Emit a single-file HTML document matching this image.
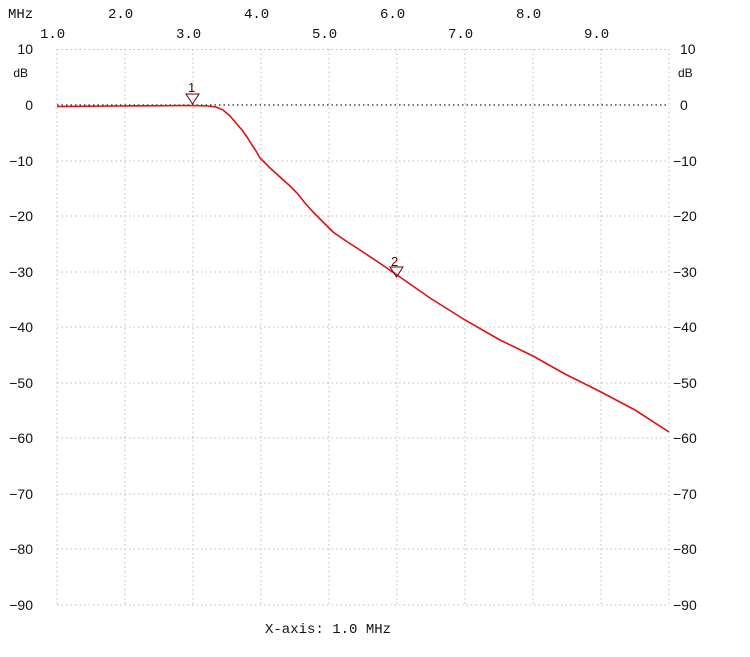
<!DOCTYPE html>
<html><head><meta charset="utf-8"><style>
html,body{margin:0;padding:0;background:#fff;}
svg{display:block;}
text{font-family:"Liberation Sans",sans-serif;font-size:14px;fill:#111;}
.m{font-family:"Liberation Mono",monospace;font-size:14px;}
</style></head><body>
<svg width="750" height="657" viewBox="0 0 750 657" xmlns="http://www.w3.org/2000/svg">
<g stroke="#bbb" stroke-width="1" stroke-dasharray="1.5,3" fill="none">
<line x1="57" y1="49.5" x2="669" y2="49.5"/>
<line x1="57" y1="161" x2="669" y2="161"/>
<line x1="57" y1="216" x2="669" y2="216"/>
<line x1="57" y1="272" x2="669" y2="272"/>
<line x1="57" y1="327" x2="669" y2="327"/>
<line x1="57" y1="383" x2="669" y2="383"/>
<line x1="57" y1="438" x2="669" y2="438"/>
<line x1="57" y1="494" x2="669" y2="494"/>
<line x1="57" y1="549" x2="669" y2="549"/>
<line x1="57" y1="605" x2="669" y2="605"/>
<line x1="57" y1="49" x2="57" y2="605"/>
<line x1="125" y1="49" x2="125" y2="605"/>
<line x1="193" y1="49" x2="193" y2="605"/>
<line x1="261" y1="49" x2="261" y2="605"/>
<line x1="329" y1="49" x2="329" y2="605"/>
<line x1="397" y1="49" x2="397" y2="605"/>
<line x1="465" y1="49" x2="465" y2="605"/>
<line x1="533" y1="49" x2="533" y2="605"/>
<line x1="601" y1="49" x2="601" y2="605"/>
<line x1="669" y1="49" x2="669" y2="605"/>
</g>
<line x1="57" y1="105" x2="669" y2="105" stroke="#222" stroke-width="1.2" stroke-dasharray="1.5,3"/>
<polyline fill="none" stroke="#e01010" stroke-width="1.6" points="57,106.5 120,106 193,105.5 208,106 216,107 223,110 230,116 236,123 242,130 247,137 252,145 256,151 260,158 270,168 280,177 290,186 297,193 305,203 313,212 323,222 333,232 346,241 360,250 378,262 397,275 430,298 465,320 500,340 533,356 565,374 601,392 635,410 669,432"/>
<g stroke="#600" stroke-width="1" fill="none">
<path d="M186,94 L199,94 L192.5,104 Z"/>
<path d="M390,267 L403,267 L396.5,277 Z"/>
</g>
<text x="188" y="92" style="font-size:13px;fill:#600">1</text>
<text x="391" y="266" style="font-size:13px;fill:#600">2</text>
<g class="m">
<text x="8" y="18" class="m">MHz</text>
<text x="108" y="18" class="m">2.0</text>
<text x="244" y="18" class="m">4.0</text>
<text x="380" y="18" class="m">6.0</text>
<text x="516" y="18" class="m">8.0</text>
<text x="40" y="38" class="m">1.0</text>
<text x="176" y="38" class="m">3.0</text>
<text x="312" y="38" class="m">5.0</text>
<text x="448" y="38" class="m">7.0</text>
<text x="584" y="38" class="m">9.0</text>
</g>
<g text-anchor="end">
<text x="33" y="54">10</text>
<text x="28" y="77" style="font-size:12px">dB</text>
<text x="33" y="110">0</text>
<text x="33" y="166">−10</text>
<text x="33" y="221">−20</text>
<text x="33" y="277">−30</text>
<text x="33" y="332">−40</text>
<text x="33" y="388">−50</text>
<text x="33" y="443">−60</text>
<text x="33" y="499">−70</text>
<text x="33" y="554">−80</text>
<text x="33" y="610">−90</text>
</g>
<g>
<text x="680" y="54">10</text>
<text x="678" y="77" style="font-size:12px">dB</text>
<text x="680" y="110">0</text>
<text x="673" y="166">−10</text>
<text x="673" y="221">−20</text>
<text x="673" y="277">−30</text>
<text x="673" y="332">−40</text>
<text x="673" y="388">−50</text>
<text x="673" y="443">−60</text>
<text x="673" y="499">−70</text>
<text x="673" y="554">−80</text>
<text x="673" y="610">−90</text>
</g>
<text x="265" y="633" class="m">X-axis: 1.0 MHz</text>
</svg>
</body></html>
